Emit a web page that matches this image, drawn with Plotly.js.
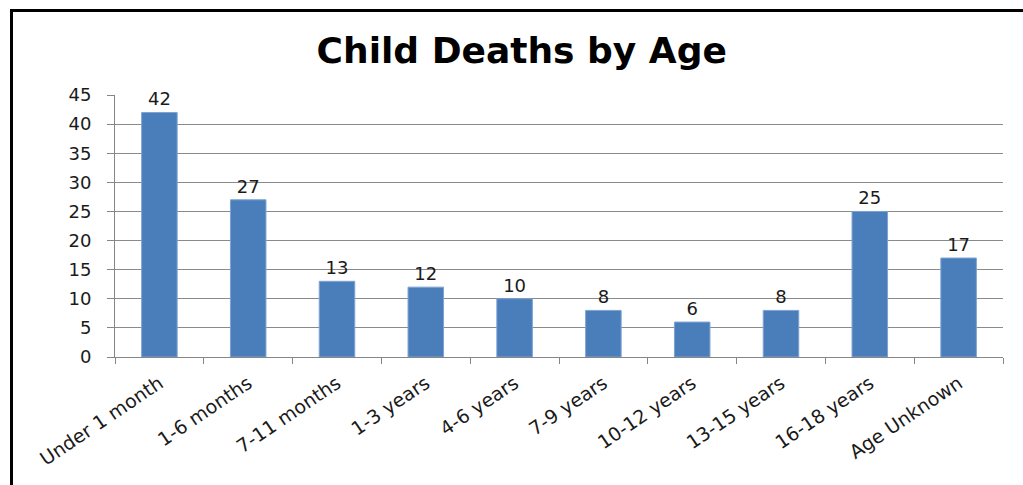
<!DOCTYPE html>
<html>
<head>
<meta charset="utf-8">
<script src="https://cdn.plot.ly/plotly-3.0.1.min.js"></script>
<style>
  html, body { margin: 0; padding: 0; background: #fff; overflow: hidden; }
  #chart { width: 1023px; height: 485px; }
</style>
</head>
<body>
<div id="chart"></div>
<script>
const categories = ["Under 1 month", "1-6 months", "7-11 months", "1-3 years", "4-6 years",
                    "7-9 years", "10-12 years", "13-15 years", "16-18 years", "Age Unknown"];
const deaths = [42, 27, 13, 12, 10, 8, 6, 8, 25, 17];
const yTicks = [0, 5, 10, 15, 20, 25, 30, 35, 40, 45];

const trace = {
  type: "bar",
  x: categories,
  y: deaths,
  text: deaths.map(String),
  textposition: "outside",
  cliponaxis: false,
  textfont: { family: "DejaVu Sans", size: 18, color: "#1a1a1a" },
  marker: { color: "#4A7EBB", line: { color: "#7EA3D3", width: 1 } },
  width: 0.4,
  hoverinfo: "skip"
};

// frame (top and left edges of the pasted chart box), in paper units
const W = 1023, H = 485, ML = 115, MR = 20, MT = 95, MB = 128;
const pw = W - ML - MR, ph = H - MT - MB;
const px = v => (v - ML) / pw;
const py = v => (H - MB - v) / ph;

const layout = {
  width: W, height: H,
  margin: { l: ML, r: MR, t: MT, b: MB },
  paper_bgcolor: "#ffffff",
  plot_bgcolor: "#ffffff",
  showlegend: false,
  title: {
    text: "<b>Child Deaths by Age</b>",
    font: { family: "DejaVu Sans", size: 36, color: "#000" },
    xref: "container", x: 0.51, xanchor: "center",
    yref: "container", y: 0.897, yanchor: "middle"
  },
  shapes: [
    { type: "path", xref: "paper", yref: "paper",
      path: "M" + px(11.5) + "," + py(490) + " L" + px(11.5) + "," + py(10.5) + " L" + px(1030) + "," + py(10.5),
      line: { color: "#000", width: 3 } }
  ],
  xaxis: {
    type: "category",
    tickangle: -34,
    tickfont: { family: "DejaVu Sans", size: 19, color: "#1a1a1a" },
    showline: true, linecolor: "#868686", linewidth: 1,
    ticks: "outside", ticklen: 6, tickcolor: "#868686",
    tickson: "boundaries",
    showgrid: false,
    ticklabelstandoff: 7
  },
  yaxis: {
    range: [0, 45],
    tickvals: yTicks,
    ticktext: yTicks.map(String),
    tickfont: { family: "DejaVu Sans", size: 18, color: "#1a1a1a" },
    showline: true, linecolor: "#868686", linewidth: 1,
    ticks: "outside", ticklen: 7, tickcolor: "#868686",
    showgrid: true, gridcolor: "#8a8a8a", gridwidth: 1,
    zeroline: false,
    ticklabelstandoff: 12
  }
};

Plotly.newPlot("chart", [trace], layout, { displayModeBar: false, staticPlot: true });
</script>
</body>
</html>
